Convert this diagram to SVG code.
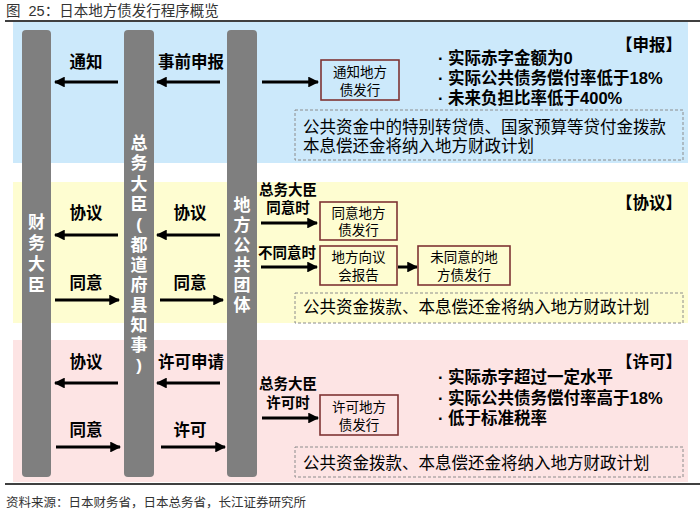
<svg xmlns="http://www.w3.org/2000/svg" width="700" height="514" viewBox="0 0 700 514">
<defs>
<marker id="ah" viewBox="0 0 10 10" refX="9" refY="5" markerWidth="3.6" markerHeight="3.6" orient="auto" markerUnits="strokeWidth">
<path d="M0,0 L10,5 L0,10 z" fill="#000"/>
</marker>
</defs>
<style>
text{font-family:"Liberation Sans","Noto Sans CJK SC",sans-serif;}
.t{font-size:14px;fill:#333;}
.lb{font-size:16.5px;font-weight:bold;fill:#000;text-anchor:middle;}
.sm{font-size:14.5px;font-weight:bold;fill:#000;text-anchor:middle;}
.vt{font-size:17px;font-weight:bold;fill:#fff;text-anchor:middle;dominant-baseline:central;}
.bx{fill:none;stroke:#7f3434;stroke-width:1.6;}
.bt{font-size:13.5px;fill:#000;text-anchor:middle;}
.bl{font-size:16.5px;font-weight:bold;fill:#000;}
.dash{fill:none;stroke:#8c8c8c;stroke-width:1;stroke-dasharray:3,2;}
.dt{font-size:16.5px;fill:#000;}
.ar{stroke:#000;stroke-width:3;fill:none;marker-end:url(#ah);}
.bar{fill:#7f7f7f;}
</style>
<g id="title">
<text x="6" y="16" class="t" style="font-size:14.5px" xml:space="preserve">图  25：日本地方债发行程序概览</text>
<line x1="5" y1="21" x2="700" y2="21" stroke="#000" stroke-width="1.3"/>
</g>
<g id="panels">
<rect x="13" y="22" width="675" height="141" fill="#cce9fb"/>
<rect x="13" y="182" width="675" height="141" fill="#fefdd1"/>
<rect x="13" y="340" width="675" height="142" fill="#fde4e4"/>
</g>
<g id="bar-mof">
<rect class="bar" x="22" y="30" width="29" height="447" rx="4"/>
<text class="vt" x="36.5" y="222">财</text>
<text class="vt" x="36.5" y="243">务</text>
<text class="vt" x="36.5" y="264">大</text>
<text class="vt" x="36.5" y="285">臣</text>
</g>
<g id="bar-mic">
<rect class="bar" x="124" y="30" width="30" height="447" rx="4"/>
<text class="vt" x="139" y="143">总</text>
<text class="vt" x="139" y="163">务</text>
<text class="vt" x="139" y="184">大</text>
<text class="vt" x="139" y="204">臣</text>
<text class="vt" x="139" y="224">(</text>
<text class="vt" x="139" y="245">都</text>
<text class="vt" x="139" y="265">道</text>
<text class="vt" x="139" y="285">府</text>
<text class="vt" x="139" y="305">县</text>
<text class="vt" x="139" y="325">知</text>
<text class="vt" x="139" y="345">事</text>
<text class="vt" x="139" y="365">)</text>
</g>
<g id="bar-local">
<rect class="bar" x="227" y="30" width="30" height="447" rx="4"/>
<text class="vt" x="242" y="205">地</text>
<text class="vt" x="242" y="225">方</text>
<text class="vt" x="242" y="245">公</text>
<text class="vt" x="242" y="265">共</text>
<text class="vt" x="242" y="285">团</text>
<text class="vt" x="242" y="305">体</text>
</g>
<g id="connectors">
<line class="ar" x1="118" y1="82" x2="55" y2="82"/>
<line class="ar" x1="220" y1="82" x2="157" y2="82"/>
<line class="ar" x1="262" y1="82" x2="318" y2="82"/>
<line class="ar" x1="118" y1="235" x2="55" y2="235"/>
<line class="ar" x1="220" y1="235" x2="157" y2="235"/>
<line class="ar" x1="55" y1="300" x2="119" y2="300"/>
<line class="ar" x1="160" y1="300" x2="223" y2="300"/>
<line class="ar" x1="261" y1="223" x2="317" y2="223"/>
<line class="ar" x1="261" y1="267" x2="317" y2="267"/>
<line class="ar" x1="398" y1="267" x2="417" y2="267"/>
<line class="ar" x1="118" y1="383" x2="55" y2="383"/>
<line class="ar" x1="220" y1="383" x2="157" y2="383"/>
<line class="ar" x1="56" y1="447" x2="120" y2="447"/>
<line class="ar" x1="161" y1="447" x2="225" y2="447"/>
<line class="ar" x1="262" y1="418" x2="318" y2="418"/>
</g>
<g id="labels">
<text class="lb" x="86" y="68">通知</text>
<text class="lb" x="191" y="68">事前申报</text>
<text class="lb" x="86" y="219">协议</text>
<text class="lb" x="190" y="219">协议</text>
<text class="lb" x="86" y="289">同意</text>
<text class="lb" x="190" y="289">同意</text>
<text class="lb" x="86" y="368">协议</text>
<text class="lb" x="191" y="368">许可申请</text>
<text class="lb" x="86" y="436">同意</text>
<text class="lb" x="190" y="436">许可</text>
<text class="sm" x="288" y="195">总务大臣</text>
<text class="sm" x="288" y="213">同意时</text>
<text class="sm" x="287" y="258">不同意时</text>
<text class="sm" x="288" y="389">总务大臣</text>
<text class="sm" x="288" y="408">许可时</text>
</g>
<g id="box-notify">
<rect class="bx" x="321" y="60" width="78" height="40"/>
<text class="bt" x="360" y="77">通知地方</text>
<text class="bt" x="360" y="95">债发行</text>
</g>
<g id="box-agree">
<rect class="bx" x="320" y="202" width="77" height="38"/>
<text class="bt" x="358.5" y="218">同意地方</text>
<text class="bt" x="358.5" y="235">债发行</text>
</g>
<g id="box-report">
<rect class="bx" x="320" y="246" width="77" height="39"/>
<text class="bt" x="358.5" y="262">地方向议</text>
<text class="bt" x="358.5" y="280">会报告</text>
</g>
<g id="box-unagreed">
<rect class="bx" x="418" y="246" width="92" height="39"/>
<text class="bt" x="464" y="262">未同意的地</text>
<text class="bt" x="464" y="280">方债发行</text>
</g>
<g id="box-permit">
<rect class="bx" x="320" y="395" width="78" height="40"/>
<text class="bt" x="359" y="412">许可地方</text>
<text class="bt" x="359" y="430">债发行</text>
</g>
<g id="cond-report">
<text class="bl" x="616" y="51">【申报】</text>
<text class="bl" x="438" y="64">· 实际赤字金额为0</text>
<text class="bl" x="438" y="84">· 实际公共债务偿付率低于18%</text>
<text class="bl" x="438" y="104">· 未来负担比率低于400%</text>
</g>
<g id="note-report">
<rect class="dash" x="295" y="110" width="388" height="50"/>
<text class="dt" x="303" y="133">公共资金中的特别转贷债、国家预算等贷付金拨款</text>
<text class="dt" x="303" y="152">本息偿还金将纳入地方财政计划</text>
</g>
<g id="cond-agree">
<text class="bl" x="616" y="209">【协议】</text>
</g>
<g id="note-agree">
<rect class="dash" x="295" y="293" width="388" height="30"/>
<text class="dt" x="303" y="313">公共资金拨款、本息偿还金将纳入地方财政计划</text>
</g>
<g id="cond-permit">
<text class="bl" x="616" y="368">【许可】</text>
<text class="bl" x="438" y="383">· 实际赤字超过一定水平</text>
<text class="bl" x="438" y="404">· 实际公共债务偿付率高于18%</text>
<text class="bl" x="438" y="424">· 低于标准税率</text>
</g>
<g id="note-permit">
<rect class="dash" x="295" y="447" width="388" height="30"/>
<text class="dt" x="303" y="469">公共资金拨款、本息偿还金将纳入地方财政计划</text>
</g>
<g id="footer">
<line x1="5" y1="484" x2="700" y2="484" stroke="#000" stroke-width="1.3"/>
<text class="t" x="6" y="507" style="font-size:12.5px">资料来源：日本财务省，日本总务省，长江证券研究所</text>
</g>
</svg>
